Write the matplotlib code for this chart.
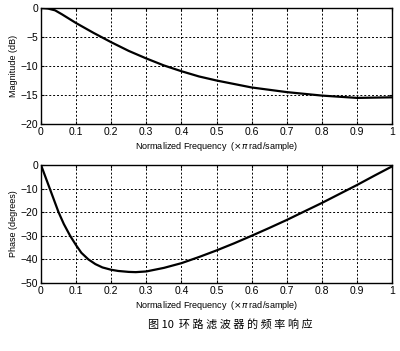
import numpy as np
import matplotlib.pyplot as plt

plt.rcParams['font.family'] = ['Liberation Sans', 'DejaVu Sans']

# magnitude response
f_mag = [0, 0.02, 0.04, 0.06, 0.1, 0.15, 0.2, 0.25, 0.3, 0.35, 0.4, 0.45, 0.5, 0.6, 0.7, 0.8, 0.9, 1.0]
mag = [0, -0.1, -0.4, -1.1, -2.6, -4.3, -5.9, -7.4, -8.7, -9.9, -10.9, -11.8, -12.5, -13.7, -14.5,
       -15.1, -15.5, -15.4]

# phase response
f_ph = [0, 0.005, 0.015, 0.025, 0.035, 0.05, 0.065, 0.083, 0.1, 0.115, 0.135, 0.155, 0.175, 0.2,
        0.22, 0.25, 0.27, 0.3, 0.35, 0.4, 0.45, 0.5, 0.55, 0.6, 0.65, 0.7, 0.75, 0.8, 0.85, 0.9,
        0.95, 1.0]
phase = [0, -2, -6, -10, -14, -20, -25, -30, -34, -37.2, -40, -42, -43.4, -44.4, -44.9, -45.3,
         -45.4, -45.1, -43.6, -41.6, -39.0, -36.2, -33.2, -30.0, -26.7, -23.3, -19.7, -16.1, -12.3,
         -8.5, -4.5, -0.6]

xticks = np.arange(0, 1.01, 0.1)
xticklabels = ['0', '0.1', '0.2', '0.3', '0.4', '0.5', '0.6', '0.7', '0.8', '0.9', '1']

fig = plt.figure(figsize=(4.0, 3.51), dpi=100)
ax1 = fig.add_axes([41/400, 1-124/351, 351/400, 116/351])
ax2 = fig.add_axes([41/400, 1-283/351, 351/400, 118/351])

ax1.plot(f_mag, mag, color='black', lw=1.6)
ax1.set_ylim(-20, 0)
ax1.set_yticks([0, -5, -10, -15, -20])
ax1.set_ylabel('Magnitude (dB)', fontsize=6.5, labelpad=2)

ax2.plot(f_ph, phase, color='black', lw=1.6)
ax2.set_ylim(-50, 0)
ax2.set_yticks([0, -10, -20, -30, -40, -50])
ax2.set_ylabel('Phase (degrees)', fontsize=6.5, labelpad=2)

for ax in (ax1, ax2):
    ax.set_xlim(0, 1)
    ax.set_xticks(xticks)
    ax.set_xticklabels(xticklabels)
    ax.tick_params(direction='in', labelsize=7.5, length=2, pad=2, top=True, right=True)
    ax.grid(color='black', linestyle=(0, (2, 2)), linewidth=0.7)
    ax.set_xlabel(r'Normalized Frequency  ($\times\pi$ rad/sample)', fontsize=6.5, labelpad=2)
    for s in ax.spines.values():
        s.set_linewidth(1.0)

fig.text(0.575, 1-324/351, '图 10  环 路 滤 波 器 的 频 率 响 应', ha='center', va='center',
         fontsize=8, family=['Noto Sans CJK SC', 'DejaVu Sans'])

fig.savefig('out.png', dpi=100)
